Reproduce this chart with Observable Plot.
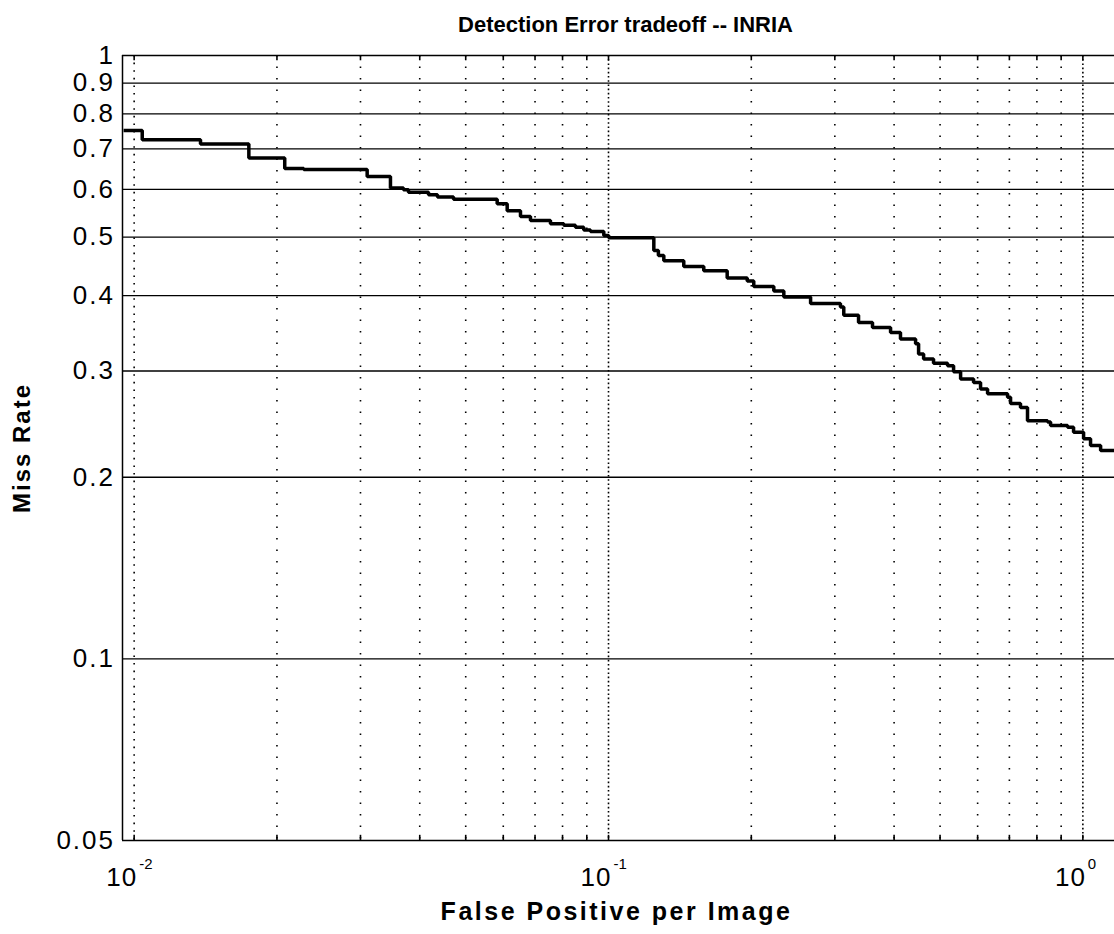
<!DOCTYPE html>
<html>
<head>
<meta charset="utf-8">
<script src="https://cdn.jsdelivr.net/npm/d3@7"></script>
<script src="https://cdn.jsdelivr.net/npm/@observablehq/plot@0.6"></script>
<style>
  html, body { margin: 0; padding: 0; background: #fff; }
  #chart svg { display: block; }
  g[aria-description="ytick-label"] text { letter-spacing: 2px; }
  g[aria-description="xtick-base"] text { letter-spacing: 1px; }
  g[aria-description="xlabel"] text { letter-spacing: 2.5px; }
  g[aria-description="ylabel"] text { letter-spacing: 2px; }
</style>
</head>
<body>
<div id="chart"></div>
<script>
// ---- data (DET curve, INRIA) ----
const fppi = [0.0095, 0.0104, 0.0138, 0.01745, 0.02077, 0.02278, 0.03099, 0.0347, 0.03696, 0.03787,
  0.04174, 0.0436, 0.04713, 0.05825, 0.06115, 0.06523, 0.06847, 0.07545, 0.08049, 0.08518,
  0.08868, 0.09162, 0.09774, 0.1001, 0.1246, 0.1274, 0.1308, 0.1441, 0.1588, 0.1779,
  0.1961, 0.2024, 0.2231, 0.2342, 0.2667, 0.3083, 0.3133, 0.3366, 0.3602, 0.3932,
  0.4126, 0.444, 0.4505, 0.4616, 0.4844, 0.5186, 0.5339, 0.5524, 0.5883, 0.6086,
  0.6297, 0.6939, 0.704, 0.7388, 0.7644, 0.8425, 0.8549, 0.9286, 0.9559, 1.0035,
  1.038, 1.09, 1.166];
const missRate = [0.751, 0.725, 0.7135, 0.676, 0.650, 0.647, 0.630, 0.603, 0.599, 0.5935,
  0.588, 0.583, 0.578, 0.568, 0.553, 0.541, 0.533, 0.526, 0.523, 0.519,
  0.514, 0.511, 0.503, 0.499, 0.475, 0.466, 0.457, 0.447, 0.440, 0.428,
  0.423, 0.414, 0.407, 0.398, 0.388, 0.383, 0.371, 0.361, 0.354, 0.3475,
  0.339, 0.333, 0.320, 0.314, 0.309, 0.306, 0.299, 0.291, 0.287, 0.280,
  0.275, 0.2715, 0.265, 0.261, 0.248, 0.247, 0.2436, 0.242, 0.2375, 0.2316,
  0.2258, 0.2215, 0.220];

const xDomain = [0.00945, 1.166];
const yDomain = [0.05, 1];
const yTicks = [0.05, 0.1, 0.2, 0.3, 0.4, 0.5, 0.6, 0.7, 0.8, 0.9, 1];
const yTickLabels = ["0.05", "0.1", "0.2", "0.3", "0.4", "0.5", "0.6", "0.7", "0.8", "0.9", "1"];
const xDecades = [0.01, 0.1, 1];
const xDecadeBase = ["10", "10", "10"];
const xDecadeExp = ["-2", "-1", "0"];
const xMinor = [0.02, 0.03, 0.04, 0.05, 0.06, 0.07, 0.08, 0.09, 0.2, 0.3, 0.4, 0.5, 0.6, 0.7, 0.8, 0.9];

const titleText = "Detection Error tradeoff -- INRIA";
const xLabelText = "False Positive per Image";
const yLabelText = "Miss Rate";

const curve = fppi.map((x, i) => ({x, y: missRate[i]}));
const font = "'Liberation Sans', Arial, Helvetica, sans-serif";

const chart = Plot.plot({
  width: 1114,
  height: 934,
  marginTop: 55,
  marginLeft: 122,
  marginRight: 0,
  marginBottom: 94,
  style: {background: "#fff", fontFamily: font, color: "#000"},
  x: {type: "log", domain: xDomain, axis: null},
  y: {type: "log", domain: yDomain, axis: null},
  marks: [
    // dotted vertical grid
    Plot.ruleX(xMinor, {x: d => d, stroke: "#000", strokeWidth: 1.6, strokeDasharray: "1.6,9.9"}),
    Plot.ruleX([xDecades[0]], {x: d => d, stroke: "#000", strokeWidth: 1.6, strokeDasharray: "1.6,6"}),
    Plot.ruleX(xDecades.slice(1), {x: d => d, stroke: "#000", strokeWidth: 1.6, strokeDasharray: "1.6,2.6"}),
    // small tick marks top and bottom
    Plot.ruleX(xMinor.concat(xDecades), {x: d => d, y1: 1, y2: 0.98, stroke: "#000", strokeWidth: 1.6}),
    Plot.ruleX(xMinor.concat(xDecades), {x: d => d, y1: 0.05, y2: 0.051, stroke: "#000", strokeWidth: 1.6}),
    // solid horizontal grid (incl. top and bottom frame)
    Plot.ruleY(yTicks, {y: d => d, stroke: "#000", strokeWidth: 1.3}),
    // left frame
    Plot.ruleX([xDomain[0]], {x: d => d, stroke: "#000", strokeWidth: 1.5}),
    // curve
    Plot.line(curve, {x: "x", y: "y", curve: "step-after", stroke: "#000", strokeWidth: 3.5,
      strokeLinejoin: "miter", strokeLinecap: "butt"}),
    // y tick labels
    Plot.text(yTicks, {y: d => d, text: (d, i) => yTickLabels[i], frameAnchor: "left", dx: -7.5,
      textAnchor: "end", fontSize: 26, fill: "#000", ariaDescription: "ytick-label"}),
    // x tick labels: base and exponent
    Plot.text(xDecades, {x: d => d, text: (d, i) => xDecadeBase[i], frameAnchor: "bottom", dx: 3, dy: 45,
      textAnchor: "end", lineAnchor: "bottom", fontSize: 26, fill: "#000", ariaDescription: "xtick-base"}),
    Plot.text(xDecades, {x: d => d, text: (d, i) => xDecadeExp[i], frameAnchor: "bottom", dx: 5, dy: 28,
      textAnchor: "start", lineAnchor: "bottom", fontSize: 15, fill: "#000", ariaDescription: "xtick-exp"}),
    // title
    Plot.text([titleText], {frameAnchor: "top", dx: 7, dy: -24, lineAnchor: "bottom", textAnchor: "middle",
      fontSize: 22, fontWeight: "bold", fill: "#000", ariaDescription: "title"}),
    // x label
    Plot.text([xLabelText], {frameAnchor: "bottom", dx: -2, dy: 79, lineAnchor: "bottom", textAnchor: "middle",
      fontSize: 25, fontWeight: "bold", fill: "#000", ariaDescription: "xlabel"}),
    // y label
    Plot.text([yLabelText], {frameAnchor: "left", dx: -100, rotate: -90, lineAnchor: "middle", textAnchor: "middle",
      fontSize: 24, fontWeight: "bold", fill: "#000", ariaDescription: "ylabel"})
  ]
});
document.getElementById("chart").appendChild(chart);
</script>
</body>
</html>
